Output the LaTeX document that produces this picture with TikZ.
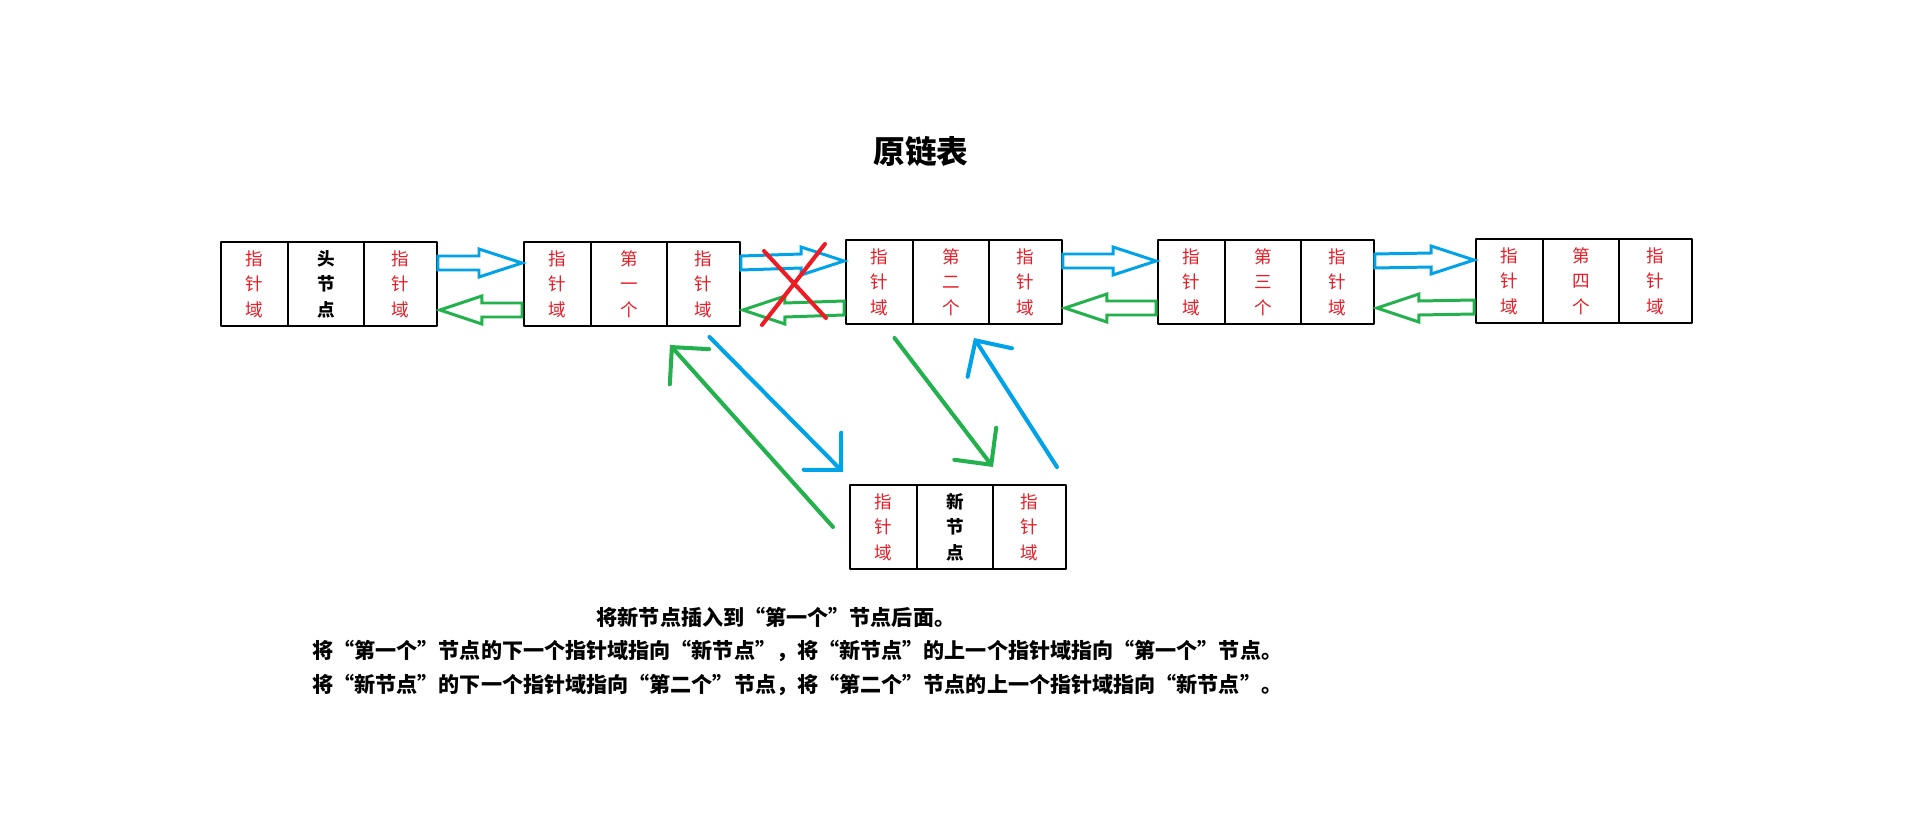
\documentclass[tikz,border=0pt]{standalone}
\usepackage{fontspec}
\setmainfont{Noto Sans CJK SC}
\usetikzlibrary{positioning,calc,arrows.meta}
\definecolor{ptrred}{RGB}{230,30,40}
\definecolor{arrowblue}{RGB}{0,162,232}
\definecolor{arrowgreen}{RGB}{34,177,76}
\definecolor{crossred}{RGB}{237,28,36}
\begin{document}
\begin{tikzpicture}[x=0.02cm,y=-0.02cm,line cap=round,line join=round,
	cell/.style={draw,line width=1.6pt,minimum height=1.68cm,outer sep=0pt,inner sep=0pt,align=center,text=ptrred,font=\fontsize{10}{14.6}\selectfont},
	midred/.style={},
	midblack/.style={text=black,font=\fontsize{10}{14.6}\selectfont\bfseries},
	blockblue/.style={draw=arrowblue,line width=1.7pt,line join=miter},
	blockgreen/.style={draw=arrowgreen,line width=1.7pt,line join=miter},
	bluearr/.style={draw=arrowblue,line width=2.3pt,-{Straight Barb[length=15pt,width=30pt,line cap=round]}},
	greenarr/.style={draw=arrowgreen,line width=2.3pt,-{Straight Barb[length=15pt,width=30pt,line cap=round]}},
	note/.style={font=\fontsize{12}{14}\selectfont\bfseries,inner sep=0pt}]
	\useasboundingbox[fill=white] (0,0) rectangle (1914,818);
	\node[font=\fontsize{18}{20}\selectfont\bfseries] (title) at (921,151) {原链表};
	% the list nodes, three cells each
	\foreach \nm/\x/\y/\midtxt/\midsty in {h/221/242/{头\\节\\点}/midblack,a/524/242/{第\\一\\个}/midred,b/846/240/{第\\二\\个}/midred,c/1158/240/{第\\三\\个}/midred,d/1476/239/{第\\四\\个}/midred,n/850/485/{新\\节\\点}/midblack}{
		\node[cell,minimum width=1.34cm,anchor=north west] (\nm-l) at (\x,\y) {指\\针\\域};
		\node[cell,\midsty,minimum width=1.52cm,right=0pt of \nm-l] (\nm-m) {\midtxt};
		\node[cell,minimum width=1.46cm,right=0pt of \nm-m] (\nm-r) {指\\针\\域};
	}
	% block arrows between neighbours
	\foreach \p/\q in {h/a,a/b,b/c,c/d}{
		\draw[blockblue] ($(\p-r.north east)+(1,14)$) -- ($(\q-l.north west)+(-45,14)$) -- ($(\q-l.north west)+(-45,7)$) -- ($(\q-l.north west)+(-2,21)$) -- ($(\q-l.north west)+(-45,35)$) -- ($(\q-l.north west)+(-45,28)$) -- ($(\p-r.north east)+(1,28)$) -- cycle;
		\draw[blockgreen] ($(\q-l.north west)+(-2,61)$) -- ($(\p-r.north east)+(45,61)$) -- ($(\p-r.north east)+(45,54)$) -- ($(\p-r.north east)+(3,68)$) -- ($(\p-r.north east)+(45,82)$) -- ($(\p-r.north east)+(45,75)$) -- ($(\q-l.north west)+(-2,75)$) -- cycle;
	}
	\draw[crossred,line width=2.3pt] ($(a-r.north east)+(24,9)$) -- ($(a-r.north east)+(86,76)$);
	\draw[crossred,line width=2.3pt] ($(a-r.north east)+(85,2)$) -- ($(a-r.north east)+(22,83)$);
	% links to the new node
	\draw[bluearr] ($(a-r.south)+(6,11)$) -- ($(n-l.north west)+(-7,-13)$);
	\draw[greenarr] ($(n-l.west)+(-17,0)$) -- ($(a-m.south east)+(3,19)$);
	\draw[greenarr] ($(b-l.south)+(15,14)$) -- ($(n-m.north east)+(0,-18)$);
	\draw[bluearr] ($(n-r.north east)+(-9,-18)$) -- ($(b-r.south west)+(-15,14)$);
	\node[note] (s1) at (776,617) {将新节点插入到“第一个”节点后面。};
	\node[note,anchor=west] (s2) at (312,651) {将“第一个”节点的下一个指针域指向“新节点”，将“新节点”的上一个指针域指向“第一个”节点。};
	\node[note,anchor=west] (s3) at (312,685) {将“新节点”的下一个指针域指向“第二个”节点，将“第二个”节点的上一个指针域指向“新节点”。};
\end{tikzpicture}
\end{document}
